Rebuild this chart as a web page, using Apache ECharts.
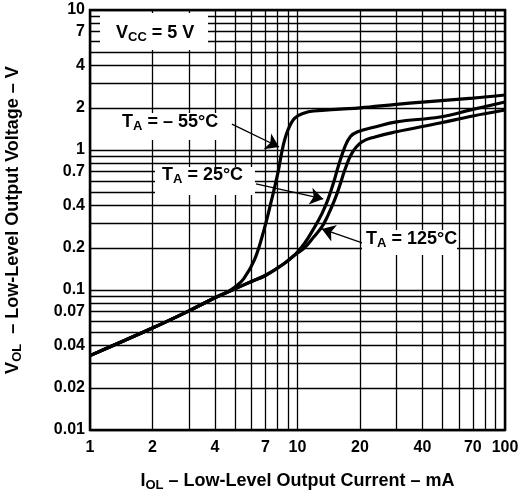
<!DOCTYPE html>
<html><head><meta charset="utf-8">
<script src="https://cdn.jsdelivr.net/npm/echarts@6/dist/echarts.min.js"></script>
<style>html,body{margin:0;padding:0;background:#fff}#c{width:523px;height:491px}</style>
</head><body><div id="c"></div>
<script>
// ---- data ----
const xGrid = [1,2,3,4,5,6,7,8,9,10,20,30,40,50,60,70,80,90,100];
const yGrid = [0.01,0.02,0.03,0.04,0.05,0.06,0.07,0.08,0.09,0.1,0.2,0.3,0.4,0.5,0.6,0.7,0.8,0.9,1,2,3,4,5,6,7,8,9,10];
const xTickLabels = [1,2,4,7,10,20,40,70,100];
const yTickLabels = [0.01,0.02,0.04,0.07,0.1,0.2,0.4,0.7,1,2,4,7,10];

const iolM55 = [1,2,3,4,4.6,5.0,5.5,6.2,6.9,7.5,8.05,8.5,9.0,9.7,10.8,12,16,20,30,40,70,100];
const volM55 = [0.034,0.0535,0.071,0.088,0.097,0.105,0.12,0.164,0.27,0.44,0.69,1.05,1.39,1.69,1.84,1.9,1.96,2.0,2.12,2.2,2.35,2.47];

const iol25 = [1,2,3,4,5,6,7,8.5,9.7,10.8,12.1,13.1,14,15,15.7,16.9,18,19.5,23.6,30,48.6,70,100];
const vol25 = [0.034,0.0535,0.071,0.088,0.102,0.115,0.127,0.152,0.178,0.215,0.282,0.35,0.44,0.6,0.76,1.05,1.25,1.35,1.46,1.59,1.72,1.95,2.2];

const iol125 = [1,2,3,4,5,6,7,8.5,9.7,10.8,12,13.1,14,15.1,16,16.9,18.3,20.4,23.6,30,48.6,70,100];
const vol125 = [0.034,0.0535,0.071,0.088,0.102,0.115,0.127,0.152,0.178,0.2,0.24,0.282,0.34,0.44,0.56,0.72,0.95,1.14,1.24,1.35,1.56,1.75,1.93];

// annotation arrows (data coordinates: start -> tip)
const arrowM55 = [[4.83,1.53],[8.15,1.05]];
const arrow25  = [[6.31,0.572],[13.3,0.447]];
const arrow125 = [[20.5,0.217],[13.1,0.273]];

// ---- chart ----
const FONT = '"Liberation Sans", Arial, Helvetica, sans-serif';
const pairs = (xs, ys) => xs.map((x, i) => [x, ys[i]]);
const chart = echarts.init(document.getElementById('c'), null, {renderer: 'canvas'});

const gridLineStyle = {color: '#000', width: 1.3, type: 'solid'};
const tickLabelStyle = {show: true, color: '#000', fontFamily: FONT, fontWeight: 'bold', fontSize: 16};

const gridMarks = [];
xGrid.forEach(v => {
  gridMarks.push({
    xAxis: v,
    label: xTickLabels.includes(v)
      ? Object.assign({position: 'start', distance: 10, formatter: String(v)}, tickLabelStyle)
      : {show: false}
  });
});
yGrid.forEach(v => {
  gridMarks.push({
    yAxis: v,
    label: yTickLabels.includes(v)
      ? Object.assign({position: 'start', distance: 5, formatter: String(v)}, tickLabelStyle)
      : {show: false}
  });
});

const curveStyle = {color: '#000', width: 3.2};
function curve(name, xs, ys, arrow) {
  return {
    name, type: 'line', data: pairs(xs, ys), showSymbol: false, symbol: 'none',
    smooth: 0.4, z: 3,
    lineStyle: curveStyle, itemStyle: {color: '#000'},
    markLine: {
      silent: true, z: 6, symbol: ['none', 'arrow'], symbolSize: 13,
      lineStyle: {color: '#000', width: 1.3, type: 'solid'},
      label: {show: false},
      data: [[{coord: arrow[0]}, {coord: arrow[1]}]]
    }
  };
}

const sub = {fontSize: 13, fontWeight: 'bold', fontFamily: FONT, color: '#000', padding: [9, 0, 0, 0]};
const annMain = {fontSize: 18, fontWeight: 'bold', fontFamily: FONT, color: '#000'};
function annText(left, cy, text) {
  return {
    type: 'text', left: left, top: cy - 12, z: 60,
    style: {text: text, rich: {m: annMain, s: sub}, fill: '#000'}
  };
}
function whiteBox(x, y, w, h) {
  return {type: 'rect', shape: {x, y, width: w, height: h}, style: {fill: '#fff'}, z: 50};
}
const nameRich = {
  m: {fontSize: 18, fontWeight: 'bold', fontFamily: FONT, color: '#000'},
  s: {fontSize: 13, fontWeight: 'bold', fontFamily: FONT, color: '#000', padding: [9, 0, 0, 0]}
};

const option = {
  animation: false,
  backgroundColor: '#fff',
  grid: {left: 90, top: 10, right: 18, bottom: 61, show: true, borderColor: '#000', borderWidth: 2.5,
         backgroundColor: 'transparent', z: 10, containLabel: false, outerBoundsMode: 'none'},
  xAxis: {
    type: 'log', logBase: 10, min: 1, max: 100,
    axisLine: {show: false}, axisTick: {show: false}, axisLabel: {show: false}, splitLine: {show: false},
    name: '{m|I}{s|OL}{m| – Low-Level Output Current – mA}',
    nameLocation: 'middle', nameGap: 40,
    nameTextStyle: {rich: nameRich}
  },
  yAxis: {
    type: 'log', logBase: 10, min: 0.01, max: 10,
    axisLine: {show: false}, axisTick: {show: false}, axisLabel: {show: false}, splitLine: {show: false},
    name: '{m|V}{s|OL}{m|  – Low-Level Output Voltage – V}',
    nameLocation: 'middle', nameGap: 66, nameRotate: 90,
    nameTextStyle: {rich: nameRich}
  },
  series: [
    {
      type: 'line', data: [], clip: false, silent: true, z: 1,
      markLine: {silent: true, z: 1, symbol: ['none', 'none'], lineStyle: gridLineStyle, data: gridMarks}
    },
    curve('-55', iolM55, volM55, arrowM55),
    curve('25', iol25, vol25, arrow25),
    curve('125', iol125, vol125, arrow125)
  ],
  graphic: [
    whiteBox(100, 13, 108, 37),
    whiteBox(114, 113, 114, 27),
    whiteBox(155, 167, 100, 28),
    whiteBox(362, 230, 95, 25),
    annText(116, 36, '{m|V}{s|CC}{m| = 5 V}'),
    annText(122, 125, '{m|T}{s|A}{m| = – 55°C}'),
    annText(162, 178, '{m|T}{s|A}{m| = 25°C}'),
    annText(366, 242, '{m|T}{s|A}{m| = 125°C}')
  ]
};
chart.setOption(option);
</script>
</body></html>
